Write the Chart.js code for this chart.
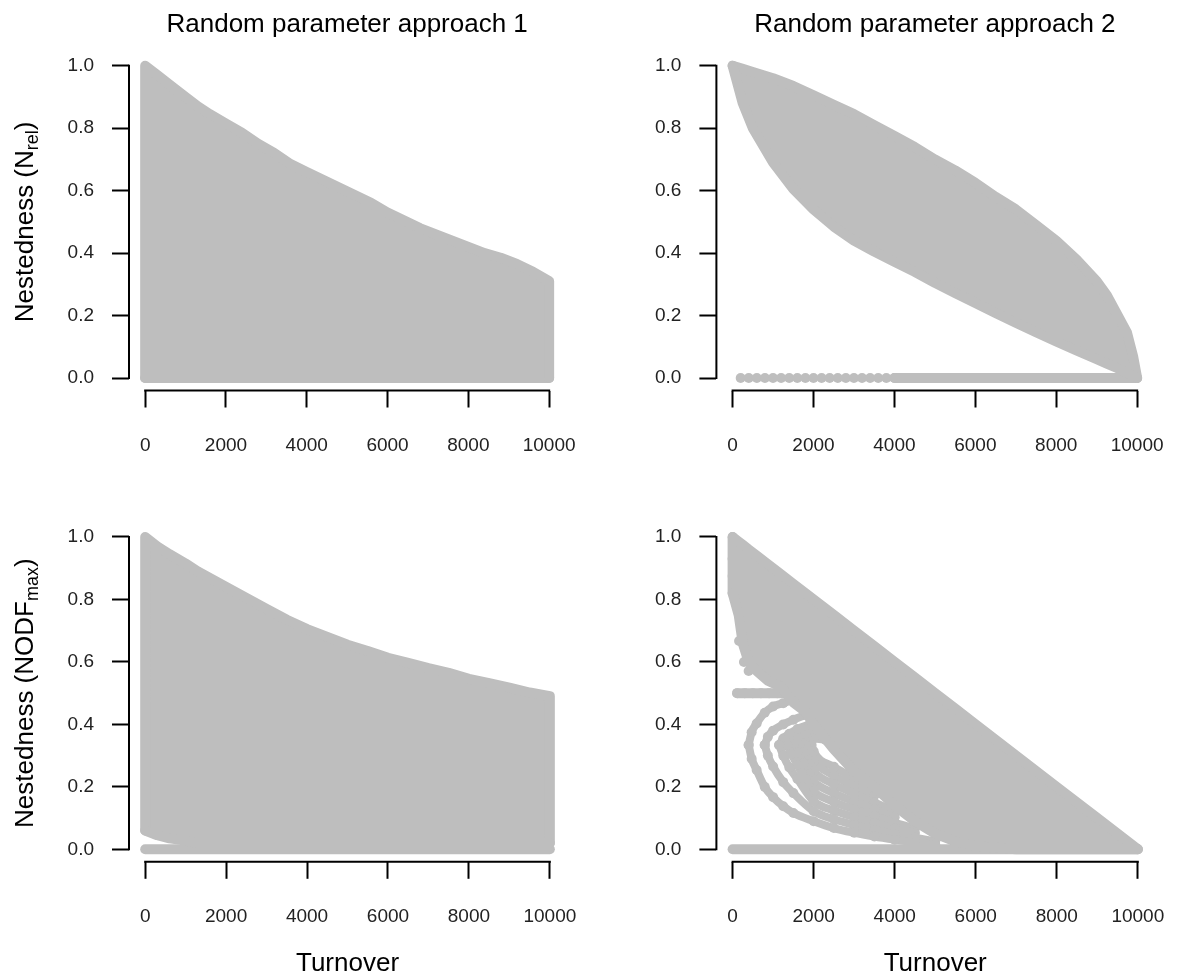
<!DOCTYPE html>
<html><head><meta charset="utf-8">
<script src="https://cdn.jsdelivr.net/npm/chart.js@4/dist/chart.umd.min.js"></script>
<style>
html,body{margin:0;padding:0;background:#fff;overflow:hidden;width:1192px;height:978px}
canvas{position:absolute}
</style></head><body>
<canvas id="pA" width="604" height="470" style="left:0px;top:0px"></canvas>
<canvas id="pB" width="605" height="470" style="left:587px;top:0px"></canvas>
<canvas id="pC" width="604" height="508" style="left:0px;top:470px"></canvas>
<canvas id="pD" width="605" height="508" style="left:587px;top:470px"></canvas>
<script>
// ---------- texts & ticks ----------
const panelTitles = ['Random parameter approach 1', 'Random parameter approach 2'];
const xTitle = 'Turnover';
const yTitleNrel = ['Nestedness (N', 'rel', ')'];
const yTitleNodf = ['Nestedness (NODF', 'max', ')'];
const xTicks = [0, 2000, 4000, 6000, 8000, 10000];
const xTickLabels = ['0', '2000', '4000', '6000', '8000', '10000'];
const yTicks = [0, 0.2, 0.4, 0.6, 0.8, 1.0];
const yTickLabels = ['0.0', '0.2', '0.4', '0.6', '0.8', '1.0'];

// ---------- Panel A: approach 1, N_rel (outline of the point cloud) ----------
const aEdgeX = [0, 0, 300, 600, 1000, 1300, 1600, 2000, 2400, 2800, 3200, 3600, 4000, 4400, 4800, 5200, 5600, 6000, 6400, 6800, 7200, 7600, 8000, 8400, 8800, 9200, 9600, 10000, 10000];
const aEdgeY = [0, 1.0, 0.97, 0.94, 0.90, 0.87, 0.845, 0.815, 0.785, 0.75, 0.72, 0.685, 0.66, 0.635, 0.61, 0.585, 0.56, 0.53, 0.505, 0.48, 0.46, 0.44, 0.42, 0.40, 0.385, 0.365, 0.34, 0.31, 0.0];
const aZeroX = [0, 10000];
const aZeroY = [0, 0];

// ---------- Panel B: approach 2, N_rel ----------
const bX = [0, 250, 500, 1000, 1500, 2000, 2500, 3000, 3500, 4000, 4500, 5000, 5500, 6000, 6500, 7000, 7500, 8000, 8500, 9000, 9250, 9500, 9750, 9900, 10000];
const bUpper = [1.0, 0.99, 0.98, 0.96, 0.935, 0.905, 0.875, 0.845, 0.81, 0.775, 0.74, 0.70, 0.665, 0.625, 0.58, 0.54, 0.49, 0.44, 0.38, 0.31, 0.265, 0.205, 0.145, 0.07, 0.0];
const bLower = [1.0, 0.88, 0.80, 0.69, 0.605, 0.54, 0.485, 0.44, 0.405, 0.372, 0.34, 0.305, 0.272, 0.24, 0.208, 0.177, 0.147, 0.117, 0.088, 0.06, 0.046, 0.032, 0.017, 0.006, 0.0];
const bZeroDotsX = [200, 400, 600, 800, 1000, 1200, 1400, 1600, 1800, 2000, 2200, 2400, 2600, 2800, 3000, 3200, 3400, 3600, 3800, 4000];
const bZeroDotsY = [0, 0, 0, 0, 0, 0, 0, 0, 0, 0, 0, 0, 0, 0, 0, 0, 0, 0, 0, 0];
const bZeroRowX = [4000, 10000];
const bZeroRowY = [0, 0];

// ---------- Panel C: approach 1, NODF_max ----------
const cX     = [0,    0,    300,   600,   1000,  1300,  2000,  2500,  3000,  3500,  4000,  4500,  5000,  5500,  6000,  6500,  7000,  7500,  8000,  8500,  9000,  9500,  10000, 10000];
const cUpper = [0.06, 1.0,  0.97,  0.945, 0.915, 0.89,  0.84,  0.805, 0.77,  0.735, 0.705, 0.68,  0.655, 0.635, 0.613, 0.597, 0.58,  0.565, 0.546, 0.532, 0.518, 0.502, 0.49,  0.02];
const cLower = [0.06, 0.06, 0.045, 0.035, 0.028, 0.02, 0.02,  0.02,  0.02,  0.02,  0.02,  0.02,  0.02,  0.02,  0.02,  0.02,  0.02,  0.02,  0.02,  0.02,  0.02,  0.02,  0.02,  0.02];
const cZeroX = [0, 10000];
const cZeroY = [0, 0];

// ---------- Panel D: approach 2, NODF_max ----------
const dX     = [0,    150,   250,   396,  600,  870,   1200, 1500, 1800, 2000, 2500, 3000, 3500, 4000, 4500, 5000, 5500,  6000, 7000, 8000, 9000, 10000];
const dUpper = [1.0,  0.985, 0.975, 0.96, 0.94, 0.913, 0.88, 0.85, 0.82, 0.80, 0.75, 0.70, 0.65, 0.60, 0.55, 0.50, 0.45,  0.40, 0.30, 0.20, 0.10, 0.0];
const dLower = [0.82, 0.75,  0.66,  0.60, 0.57, 0.54,  0.52, 0.47, 0.44, 0.40, 0.32, 0.25, 0.20, 0.14, 0.09, 0.05, 0.025, 0.01, 0.0,  0.0,  0.0,  0.0];
const dLeftEdgeX = [0, 0];
const dLeftEdgeY = [0.82, 1.0];
const dLeftDotsX = [0, 0, 160, 160, 280, 160, 280, 396];
const dLeftDotsY = [0.93, 0.875, 0.80, 0.75, 0.71, 0.667, 0.60, 0.571];
const dHalfRowX = [112, 1510];
const dHalfRowY = [0.5, 0.5];
const dHalfDotsX = [112, 300, 500, 700, 900, 1100, 1300, 1510];
const dHalfDotsY = [0.5, 0.5, 0.5, 0.5, 0.5, 0.5, 0.5, 0.5];
// lower branches of the fan (from the 1/3 level towards zero)
const dL1X = [396, 470, 593, 792, 1000, 1250, 1500, 2000, 2500, 3000, 3500, 4000, 4500, 5000];
const dL1Y = [0.334, 0.29, 0.254, 0.20, 0.167, 0.138, 0.116, 0.09, 0.068, 0.053, 0.041, 0.031, 0.022, 0.015];
const dL2X = [792, 870, 1000, 1250, 1500, 2000, 2500, 3000, 3500, 4000, 4500, 5000];
const dL2Y = [0.334, 0.30, 0.265, 0.215, 0.18, 0.122, 0.096, 0.078, 0.062, 0.049, 0.037, 0.025];
const dL3X = [1148, 1250, 1400, 1600, 2000, 2500, 3000, 3500, 4000, 4500];
const dL3Y = [0.334, 0.30, 0.262, 0.225, 0.154, 0.124, 0.103, 0.084, 0.067, 0.052];
const dL4X = [1345, 1450, 1600, 1800, 2000, 2500, 3000, 3500, 4000, 4500];
const dL4Y = [0.334, 0.305, 0.27, 0.225, 0.186, 0.152, 0.128, 0.106, 0.085, 0.067];
const dL5X = [1503, 1600, 1750, 1900, 2000, 2500, 3000, 3500, 4000];
const dL5Y = [0.334, 0.31, 0.275, 0.24, 0.218, 0.18, 0.153, 0.128, 0.103];
const dL6X = [1650, 1750, 1900, 2000, 2500, 3000, 3500, 4000];
const dL6Y = [0.334, 0.31, 0.272, 0.25, 0.208, 0.178, 0.15, 0.121];
const dL7X = [1800, 1900, 2000, 2500, 3000, 3500];
const dL7Y = [0.334, 0.305, 0.282, 0.236, 0.203, 0.172];
const dL8X = [1950, 2000, 2500, 3000, 3500];
const dL8Y = [0.334, 0.314, 0.264, 0.228, 0.194];
// upper branches of the fan (from the 1/3 level up into the main body)
const dU1X = [396, 470, 593, 792, 1000, 1250, 1500];
const dU1Y = [0.334, 0.375, 0.403, 0.437, 0.457, 0.468, 0.48];
const dU2X = [792, 870, 1000, 1250, 1500, 1800];
const dU2Y = [0.334, 0.36, 0.38, 0.40, 0.415, 0.43];
const dU3X = [1148, 1250, 1400, 1600, 1900];
const dU3Y = [0.334, 0.355, 0.37, 0.385, 0.40];
const dU4X = [1345, 1450, 1600, 1800, 2100];
const dU4Y = [0.334, 0.35, 0.36, 0.37, 0.38];
const dU5X = [1503, 1600, 1800, 2000, 2300];
const dU5Y = [0.334, 0.345, 0.35, 0.355, 0.35];
const dZeroX = [0, 10000];
const dZeroY = [0, 0];

// ---------- styling ----------
const GRAY = '#BEBEBE';
const FONT = "'Liberation Sans', Arial, Helvetica, sans-serif";

function zip(xs, ys) { return xs.map((x, i) => ({ x: x, y: ys[i] })); }
function band(xs, ys, fill) {
  return { data: zip(xs, ys), borderColor: GRAY, backgroundColor: GRAY, borderWidth: 10,
    pointRadius: 0, fill: fill, tension: 0, borderJoinStyle: 'round', borderCapStyle: 'round' };
}
function chain(xs, ys) {
  return { data: zip(xs, ys), borderColor: GRAY, backgroundColor: GRAY, borderWidth: 8,
    pointRadius: 5, pointBackgroundColor: GRAY, pointBorderWidth: 0, fill: false,
    cubicInterpolationMode: 'monotone', borderJoinStyle: 'round', borderCapStyle: 'round' };
}
function dots(xs, ys) {
  return { data: zip(xs, ys), showLine: false, pointRadius: 5, pointBackgroundColor: GRAY,
    pointBorderWidth: 0, borderColor: GRAY, backgroundColor: GRAY, fill: false };
}

const rAxesPlugin = {
  id: 'rAxes',
  afterDraw(chart) {
    const { ctx, chartArea, scales } = chart;
    const x = scales.x, y = scales.y;
    ctx.save();
    ctx.strokeStyle = '#000';
    ctx.lineWidth = 2;
    ctx.beginPath();
    ctx.moveTo(chartArea.left, y.getPixelForValue(yTicks[0]) + 1);
    ctx.lineTo(chartArea.left, y.getPixelForValue(yTicks[yTicks.length - 1]) - 1);
    ctx.moveTo(x.getPixelForValue(xTicks[0]) - 1, chartArea.bottom);
    ctx.lineTo(x.getPixelForValue(xTicks[xTicks.length - 1]) + 1, chartArea.bottom);
    ctx.stroke();
    ctx.restore();
  }
};

const yTitlePlugin = {
  id: 'ytitle',
  afterDraw(chart, args, opts) {
    if (!opts || !opts.parts) return;
    const { ctx, chartArea } = chart;
    const [main, sub, tail] = opts.parts;
    const big = 26, small = 18;
    const cy = (chartArea.top + chartArea.bottom) / 2;
    ctx.save();
    ctx.translate(opts.baseX, cy);
    ctx.rotate(-Math.PI / 2);
    ctx.fillStyle = '#000';
    ctx.textBaseline = 'alphabetic';
    ctx.textAlign = 'left';
    ctx.font = big + 'px ' + FONT;
    const w1 = ctx.measureText(main).width;
    const w3 = ctx.measureText(tail).width;
    ctx.font = small + 'px ' + FONT;
    const w2 = ctx.measureText(sub).width;
    let sx = -(w1 + w2 + w3) / 2;
    ctx.font = big + 'px ' + FONT;
    ctx.fillText(main, sx, 0);
    ctx.font = small + 'px ' + FONT;
    ctx.fillText(sub, sx + w1, 5);
    ctx.font = big + 'px ' + FONT;
    ctx.fillText(tail, sx + w1 + w2, 0);
    ctx.restore();
  }
};

function makeScales(yWidth, showXTitle) {
  return {
    x: {
      type: 'linear', min: -400, max: 10400,
      afterBuildTicks: s => { s.ticks = xTicks.map(v => ({ value: v })); },
      afterFit: s => { s.height = showXTitle ? 115 : 70; },
      ticks: { callback: (v, i) => xTickLabels[i], font: { family: FONT, size: 19 }, color: '#222',
        padding: 27, maxRotation: 0, autoSkip: false },
      grid: { display: true, drawOnChartArea: false, drawTicks: true, tickLength: 17, tickWidth: 2, tickColor: '#000' },
      border: { display: false },
      title: { display: showXTitle, text: xTitle, font: { family: FONT, size: 26, lineHeight: 1 }, color: '#000', padding: 0 }
    },
    y: {
      type: 'linear', min: -0.04, max: 1.04,
      afterBuildTicks: s => { s.ticks = yTicks.map(v => ({ value: v })); },
      afterFit: s => { s.width = yWidth; },
      ticks: { callback: (v, i) => yTickLabels[i], font: { family: FONT, size: 19 }, color: '#222',
        padding: 18, autoSkip: false },
      grid: { display: true, drawOnChartArea: false, drawTicks: true, tickLength: 17, tickWidth: 2, tickColor: '#000' },
      border: { display: false }
    }
  };
}

function makeChart(id, datasets, o) {
  new Chart(document.getElementById(id), {
    type: 'line',
    data: { datasets: datasets },
    options: {
      responsive: false, animation: false, devicePixelRatio: 1,
      layout: { padding: o.padding },
      scales: makeScales(o.yWidth, o.xTitle),
      plugins: {
        legend: { display: false }, tooltip: { enabled: false },
        title: o.title ? { display: true, text: o.title, fullSize: false, color: '#000',
          font: { family: FONT, size: 26, weight: 'normal', lineHeight: 1.2 }, padding: { top: 9, bottom: 13 } } : { display: false },
        ytitle: o.ytitle ? { parts: o.ytitle, baseX: 33 } : {}
      }
    },
    plugins: [rAxesPlugin, yTitlePlugin]
  });
}

makeChart('pA', [band(aEdgeX, aEdgeY, 'origin'), band(aZeroX, aZeroY, false)],
  { padding: { left: 0, right: 19.8, top: 0, bottom: 9.5 }, yWidth: 129, xTitle: false, title: panelTitles[0], ytitle: yTitleNrel });

makeChart('pB', [band(bX, bLower, false), band(bX, bUpper, '-1'), dots(bZeroDotsX, bZeroDotsY), band(bZeroRowX, bZeroRowY, false)],
  { padding: { left: 0, right: 20.4, top: 0, bottom: 9.5 }, yWidth: 129.4, xTitle: false, title: panelTitles[1] });

makeChart('pC', [band(cX, cLower, false), band(cX, cUpper, '-1'), band(cZeroX, cZeroY, false)],
  { padding: { left: 0, right: 19.8, top: 54.5, bottom: 1.2 }, yWidth: 129, xTitle: true, ytitle: yTitleNodf });

makeChart('pD', [band(dX, dLower, false), band(dX, dUpper, '-1'), band(dLeftEdgeX, dLeftEdgeY, false),
  band(dZeroX, dZeroY, false), band(dHalfRowX, dHalfRowY, false), dots(dHalfDotsX, dHalfDotsY),
  dots(dLeftDotsX, dLeftDotsY),
  chain(dL1X, dL1Y), chain(dL2X, dL2Y), chain(dL3X, dL3Y), chain(dL4X, dL4Y),
  chain(dL5X, dL5Y), chain(dL6X, dL6Y), chain(dL7X, dL7Y), chain(dL8X, dL8Y),
  chain(dU1X, dU1Y), chain(dU2X, dU2Y), chain(dU3X, dU3Y), chain(dU4X, dU4Y), chain(dU5X, dU5Y)],
  { padding: { left: 0, right: 20.4, top: 54.5, bottom: 1.2 }, yWidth: 129.4, xTitle: true });
</script>
</body></html>
